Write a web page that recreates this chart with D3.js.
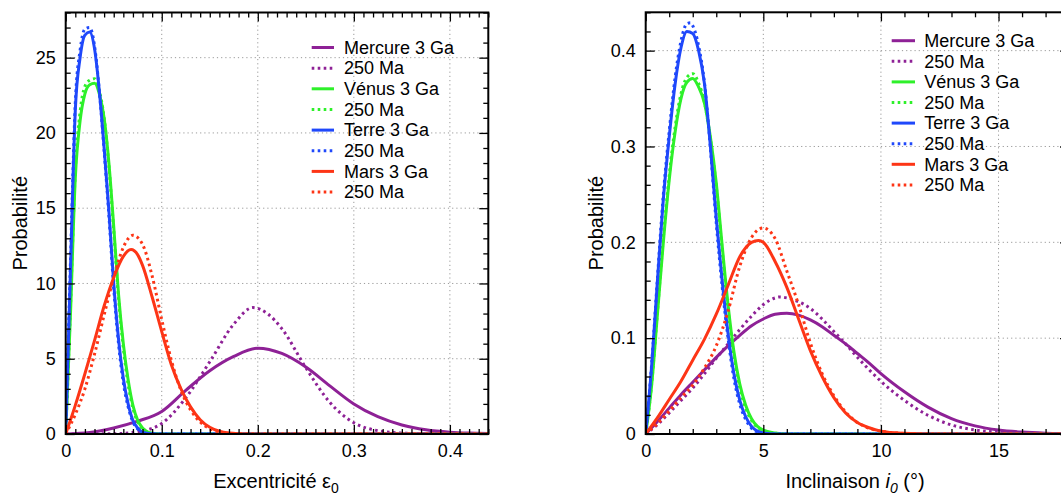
<!DOCTYPE html>
<html><head><meta charset="utf-8">
<script src="https://cdn.jsdelivr.net/npm/d3@7"></script>
<style>
body{margin:0;background:#fff;}
svg text{font-family:"Liberation Sans",Arial,Helvetica,sans-serif;fill:#000;}
</style></head>
<body>
<svg id="chart" width="1061" height="498"></svg>
<script>
// ---------- DATA : excentricity panel ----------
const eccMercure3Ga = [[0,0],[0.025,0.1],[0.05,0.4],[0.075,0.85],[0.1,1.5],[0.125,2.9],[0.15,4.2],[0.175,5.15],[0.2,5.7],[0.225,5.35],[0.25,4.45],[0.275,3.2],[0.3,2.0],[0.325,1.15],[0.35,0.6],[0.375,0.28],[0.4,0.12],[0.42,0.06],[0.44,0.03]];
const eccMercure250Ma = [[0,0],[0.05,0.02],[0.075,0.15],[0.1,0.7],[0.125,2.4],[0.15,4.8],[0.175,7.3],[0.195,8.4],[0.21,8.0],[0.225,7.0],[0.25,4.4],[0.275,2.1],[0.3,0.75],[0.325,0.22],[0.35,0.06],[0.375,0.015],[0.4,0],[0.44,0]];
const eccVenus3Ga = [[0,0],[0.005,8],[0.01,17],[0.015,20.8],[0.02,22.6],[0.025,23.2],[0.03,23.3],[0.035,22.6],[0.04,21.0],[0.045,18.0],[0.05,13.8],[0.055,9.3],[0.06,6.0],[0.065,3.6],[0.07,1.9],[0.075,0.9],[0.08,0.4],[0.085,0.15],[0.09,0.05],[0.1,0],[0.44,0]];
const eccVenus250Ma = [[0,0],[0.005,8.5],[0.01,17.5],[0.015,21.4],[0.02,23.1],[0.025,23.5],[0.03,23.6],[0.035,22.8],[0.04,21.0],[0.045,17.8],[0.05,13.5],[0.055,9.0],[0.06,5.7],[0.065,3.3],[0.07,1.7],[0.075,0.8],[0.08,0.33],[0.085,0.12],[0.09,0.04],[0.1,0],[0.44,0]];
const eccTerre3Ga = [[0,0],[0.005,11],[0.01,21.5],[0.015,25.0],[0.02,26.5],[0.025,26.7],[0.03,25.6],[0.035,22.8],[0.04,19.0],[0.045,14.8],[0.05,10.0],[0.055,6.3],[0.06,3.7],[0.065,2.0],[0.07,0.9],[0.075,0.4],[0.08,0.12],[0.09,0.02],[0.1,0],[0.44,0]];
const eccTerre250Ma = [[0,0],[0.005,11.5],[0.01,22],[0.015,25.5],[0.02,26.9],[0.025,27.0],[0.03,25.8],[0.035,22.8],[0.04,18.8],[0.045,14.5],[0.05,9.7],[0.055,6.0],[0.06,3.4],[0.065,1.8],[0.07,0.8],[0.075,0.33],[0.08,0.1],[0.09,0.01],[0.1,0],[0.44,0]];
const eccMars3Ga = [[0,0],[0.01,1.9],[0.02,4.0],[0.03,6.2],[0.04,8.5],[0.05,10.4],[0.06,11.8],[0.068,12.25],[0.075,11.9],[0.08,11.2],[0.09,9.1],[0.1,6.8],[0.11,4.6],[0.12,3.0],[0.13,1.8],[0.14,0.95],[0.15,0.45],[0.16,0.18],[0.17,0.06],[0.18,0.02],[0.2,0],[0.44,0]];
const eccMars250Ma = [[0,0],[0.01,1.3],[0.02,3.0],[0.03,5.3],[0.04,7.9],[0.05,10.4],[0.06,12.4],[0.07,13.2],[0.08,12.6],[0.09,10.5],[0.1,7.6],[0.11,4.9],[0.12,2.9],[0.13,1.6],[0.14,0.8],[0.15,0.35],[0.16,0.13],[0.17,0.04],[0.18,0.01],[0.2,0],[0.44,0]];

// ---------- DATA : inclination panel ----------
const incMercure3Ga = [[0,0],[0.5,0.013],[1,0.027],[1.5,0.041],[2,0.054],[2.5,0.067],[3,0.08],[3.5,0.092],[4,0.103],[4.5,0.113],[5,0.12],[5.5,0.125],[6,0.126],[6.5,0.124],[7,0.119],[7.5,0.112],[8,0.103],[8.5,0.094],[9,0.084],[9.5,0.074],[10,0.063],[11,0.044],[12,0.028],[13,0.016],[14,0.0085],[15,0.0042],[16,0.002],[17,0.0009],[18,0.0004]];
const incMercure250Ma = [[0,0],[0.5,0.01],[1,0.022],[1.5,0.035],[2,0.048],[2.5,0.063],[3,0.079],[3.5,0.094],[4,0.109],[4.5,0.123],[5,0.135],[5.5,0.142],[5.7,0.143],[6,0.142],[6.5,0.138],[7,0.131],[7.5,0.12],[8,0.107],[8.5,0.094],[9,0.08],[9.5,0.067],[10,0.055],[11,0.035],[12,0.0195],[13,0.0094],[14,0.0042],[15,0.0018],[16,0.0007],[17,0.0002],[18,0]];
const incVenus3Ga = [[0,0],[0.25,0.05],[0.5,0.125],[0.75,0.2],[1,0.265],[1.25,0.315],[1.5,0.35],[1.75,0.367],[2,0.371],[2.25,0.362],[2.5,0.345],[2.75,0.31],[3,0.262],[3.25,0.197],[3.5,0.135],[3.75,0.086],[4,0.052],[4.25,0.03],[4.5,0.016],[4.75,0.008],[5,0.004],[5.5,0.001],[6,0],[18,0]];
const incVenus250Ma = [[0,0],[0.25,0.052],[0.5,0.128],[0.75,0.205],[1,0.27],[1.25,0.32],[1.5,0.355],[1.75,0.372],[2,0.376],[2.25,0.366],[2.5,0.346],[2.75,0.308],[3,0.258],[3.25,0.192],[3.5,0.13],[3.75,0.082],[4,0.048],[4.25,0.027],[4.5,0.014],[4.75,0.007],[5,0.003],[5.5,0.0008],[6,0],[18,0]];
const incTerre3Ga = [[0,0],[0.25,0.07],[0.5,0.16],[0.75,0.245],[1,0.31],[1.25,0.365],[1.5,0.403],[1.75,0.42],[2,0.418],[2.25,0.4],[2.5,0.365],[2.75,0.3],[3,0.225],[3.25,0.16],[3.5,0.105],[3.75,0.063],[4,0.035],[4.25,0.018],[4.5,0.008],[4.75,0.003],[5,0.001],[5.5,0],[18,0]];
const incTerre250Ma = [[0,0],[0.25,0.072],[0.5,0.163],[0.75,0.25],[1,0.316],[1.25,0.372],[1.5,0.41],[1.75,0.428],[1.9,0.429],[2,0.426],[2.25,0.405],[2.5,0.366],[2.75,0.298],[3,0.22],[3.25,0.154],[3.5,0.1],[3.75,0.058],[4,0.031],[4.25,0.015],[4.5,0.006],[4.75,0.002],[5,0.0007],[5.5,0],[18,0]];
const incMars3Ga = [[0,0],[0.5,0.017],[1,0.036],[1.5,0.055],[2,0.077],[2.5,0.099],[3,0.125],[3.5,0.155],[4,0.185],[4.5,0.2],[4.8,0.202],[5,0.2],[5.5,0.18],[6,0.153],[6.5,0.12],[7,0.087],[7.5,0.06],[8,0.038],[8.5,0.022],[9,0.012],[9.5,0.0065],[10,0.003],[11,0.0007],[12,0],[18,0]];
const incMars250Ma = [[0,0],[0.5,0.011],[1,0.024],[1.5,0.038],[2,0.051],[2.5,0.069],[3,0.092],[3.5,0.128],[4,0.175],[4.5,0.205],[5,0.215],[5.5,0.204],[6,0.17],[6.5,0.135],[7,0.095],[7.5,0.063],[8,0.04],[8.5,0.023],[9,0.012],[9.5,0.006],[10,0.003],[11,0.0006],[12,0],[18,0]];

// ---------- labels / ticks ----------
const legendLabels = ["Mercure 3 Ga","250 Ma","Vénus 3 Ga","250 Ma","Terre 3 Ga","250 Ma","Mars 3 Ga","250 Ma"];
const seriesColors = ["#8e2196","#8e2196","#2ef02a","#2ef02a","#1f48fb","#1f48fb","#fd3516","#fd3516"];
const seriesDotted = [false,true,false,true,false,true,false,true];

const eccXTicks = [0,0.1,0.2,0.3,0.4];
const eccXTickLabels = ["0","0.1","0.2","0.3","0.4"];
const eccYTicks = [0,5,10,15,20,25];
const eccYTickLabels = ["0","5","10","15","20","25"];
const incXTicks = [0,5,10,15];
const incXTickLabels = ["0","5","10","15"];
const incYTicks = [0,0.1,0.2,0.3,0.4];
const incYTickLabels = ["0","0.1","0.2","0.3","0.4"];

const svg = d3.select("#chart");

function panel(cfg){
  const x = d3.scaleLinear().domain(cfg.xDomain).range([cfg.left, cfg.right]);
  const y = d3.scaleLinear().domain(cfg.yDomain).range([cfg.bottom, cfg.top]);
  const g = svg.append("g");
  const clipId = "clip" + cfg.id;
  svg.append("clipPath").attr("id", clipId).append("rect")
    .attr("x", cfg.left).attr("y", cfg.top).attr("width", cfg.right-cfg.left).attr("height", cfg.bottom-cfg.top);

  // grid
  const grid = g.append("g").attr("stroke","#9a9a9a").attr("stroke-width",1).attr("stroke-dasharray","1.2,3");
  cfg.xTicks.filter(v => v>cfg.xDomain[0] && v<cfg.xDomain[1]).forEach(v => {
    grid.append("line").attr("x1",x(v)).attr("x2",x(v)).attr("y1",cfg.bottom).attr("y2",cfg.top);
  });
  cfg.yTicks.filter(v => v>cfg.yDomain[0] && v<cfg.yDomain[1]).forEach(v => {
    grid.append("line").attr("y1",y(v)).attr("y2",y(v)).attr("x1",cfg.left).attr("x2",cfg.right);
  });

  // curves
  const line = d3.line().x(d => x(d[0])).y(d => y(d[1])).curve(d3.curveMonotoneX);
  const cg = g.append("g").attr("clip-path", `url(#${clipId})`);
  cfg.series.forEach((s,i) => {
    cg.append("path").datum(s).attr("d", line).attr("fill","none")
      .attr("stroke", seriesColors[i]).attr("stroke-width", 3)
      .attr("stroke-linejoin","round")
      .attr("stroke-dasharray", seriesDotted[i] ? "2.6,3.4" : null);
  });

  // axes (inward ticks on all sides)
  const fmt = (ticks, labels) => (d => labels[ticks.indexOf(d)]);
  const axG = g.append("g");
  const xb = axG.append("g").attr("transform", `translate(0,${cfg.bottom})`)
    .call(d3.axisBottom(x).tickValues(cfg.xTicks).tickSize(-9).tickPadding(9).tickFormat(fmt(cfg.xTicks,cfg.xTickLabels)));
  axG.append("g").attr("transform", `translate(0,${cfg.bottom})`)
    .call(d3.axisBottom(x).tickValues(cfg.xMinor).tickSize(-5).tickFormat(""));
  axG.append("g").attr("transform", `translate(0,${cfg.top})`)
    .call(d3.axisTop(x).tickValues(cfg.xTicks).tickSize(-9).tickFormat(""));
  axG.append("g").attr("transform", `translate(0,${cfg.top})`)
    .call(d3.axisTop(x).tickValues(cfg.xMinor).tickSize(-5).tickFormat(""));
  axG.append("g").attr("transform", `translate(${cfg.left},0)`)
    .call(d3.axisLeft(y).tickValues(cfg.yTicks).tickSize(-9).tickPadding(10).tickFormat(fmt(cfg.yTicks,cfg.yTickLabels)));
  axG.append("g").attr("transform", `translate(${cfg.left},0)`)
    .call(d3.axisLeft(y).tickValues(cfg.yMinor).tickSize(-5).tickFormat(""));
  axG.append("g").attr("transform", `translate(${cfg.right},0)`)
    .call(d3.axisRight(y).tickValues(cfg.yTicks).tickSize(-9).tickFormat(""));
  axG.append("g").attr("transform", `translate(${cfg.right},0)`)
    .call(d3.axisRight(y).tickValues(cfg.yMinor).tickSize(-5).tickFormat(""));
  axG.selectAll(".domain").remove();
  axG.selectAll(".tick line").attr("stroke","#000").attr("stroke-width",1.3);
  axG.selectAll(".tick text").attr("fill","#000").attr("font-size",18)
    .attr("font-family","Liberation Sans, Arial, sans-serif");
  xb.selectAll(".tick text").attr("dy","0.75em");

  // frame
  g.append("rect").attr("x",cfg.left).attr("y",cfg.top).attr("width",cfg.right-cfg.left).attr("height",cfg.bottom-cfg.top)
    .attr("fill","none").attr("stroke","#000").attr("stroke-width",2);

  // legend
  const lg = g.append("g").attr("font-size", 18);
  legendLabels.forEach((lab,i) => {
    const cy = cfg.legTop + i*cfg.legStep;
    lg.append("line").attr("x1",cfg.legX1).attr("x2",cfg.legX2).attr("y1",cy).attr("y2",cy)
      .attr("stroke",seriesColors[i]).attr("stroke-width",3)
      .attr("stroke-dasharray", seriesDotted[i] ? "2.6,3.4" : null);
    lg.append("text").attr("x",cfg.legText).attr("y",cy+6.3).text(lab);
  });

  // y title
  g.append("text").attr("transform",`translate(${cfg.yTitleX},${(cfg.top+cfg.bottom)/2}) rotate(-90)`)
    .attr("text-anchor","middle").attr("font-size",20).text("Probabilité");
  return g;
}

const left = panel({
  id:"L", left:65.7, right:488.3, top:12.5, bottom:434,
  xDomain:[0,0.44], yDomain:[0,28],
  xTicks:eccXTicks, xTickLabels:eccXTickLabels, yTicks:eccYTicks, yTickLabels:eccYTickLabels,
  xMinor:d3.range(0,45).map(i=>i/100).filter(v=>Math.round(v*100)%10!==0),
  yMinor:d3.range(0,29).filter(v=>v%5!==0),
  series:[eccMercure3Ga,eccMercure250Ma,eccVenus3Ga,eccVenus250Ma,eccTerre3Ga,eccTerre250Ma,eccMars3Ga,eccMars250Ma],
  legX1:311.7, legX2:334, legText:344, legTop:47.5, legStep:20.65, yTitleX:26.5
});
left.append("text").attr("x",276).attr("y",488).attr("text-anchor","middle").attr("font-size",20)
  .call(t => { t.append("tspan").text("Excentricité ε"); t.append("tspan").attr("font-size",14).attr("dy",5).text("0"); });

const right = panel({
  id:"R", left:645.7, right:1069.1, top:12.3, bottom:434,
  xDomain:[0,18], yDomain:[0,0.44],
  xTicks:incXTicks, xTickLabels:incXTickLabels, yTicks:incYTicks, yTickLabels:incYTickLabels,
  xMinor:d3.range(0,19).filter(v=>v%5!==0),
  yMinor:d3.range(0,23).map(i=>i*0.02).filter((v,i)=>i%5!==0),
  series:[incMercure3Ga,incMercure250Ma,incVenus3Ga,incVenus250Ma,incTerre3Ga,incTerre250Ma,incMars3Ga,incMars250Ma],
  legX1:891.7, legX2:915, legText:924.3, legTop:40.7, legStep:20.6, yTitleX:603
});
right.append("text").attr("x",855).attr("y",488).attr("text-anchor","middle").attr("font-size",20)
  .call(t => {
    t.append("tspan").text("Inclinaison ");
    t.append("tspan").attr("font-style","italic").text("i");
    t.append("tspan").attr("font-style","italic").attr("font-size",14).attr("dy",5).text("0");
    t.append("tspan").attr("dy",-5).text(" (°)");
  });
</script>
</body></html>
